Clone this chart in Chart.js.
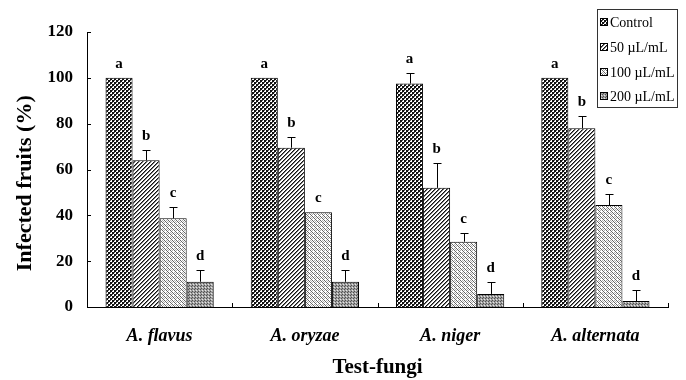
<!DOCTYPE html>
<html>
<head>
<meta charset="utf-8">
<script src="https://cdn.jsdelivr.net/npm/chart.js@4"></script>
<style>
  html, body { margin: 0; padding: 0; background: #fff; }
  #wrap { width: 686px; height: 380px; }
</style>
</head>
<body>
<div id="wrap"><canvas id="c" width="686" height="380"></canvas></div>
<script>
// categories and series
const categories = ['A. flavus', 'A. oryzae', 'A. niger', 'A. alternata'];
const seriesLabels = ['Control', '50 \u00b5L/mL', '100 \u00b5L/mL', '200 \u00b5L/mL'];

const controlValues = [100, 100, 97.5, 100];
const dose50Values = [64, 69.5, 52, 78];
const dose100Values = [38.7, 41.3, 28.5, 44.5];
const dose200Values = [11, 11, 5.7, 2.6];

// upper error bars (SD)
const controlErr = [0, 0, 4.8, 0];
const dose50Err = [4.6, 4.8, 11, 5.2];
const dose100Err = [5, 0, 4, 5];
const dose200Err = [5, 5, 5, 5];

// significance letters
const controlLetters = ['a', 'a', 'a', 'a'];
const dose50Letters = ['b', 'b', 'b', 'b'];
const dose100Letters = ['c', 'c', 'c', 'c'];
const dose200Letters = ['d', 'd', 'd', 'd'];

const yTicks = [0, 20, 40, 60, 80, 100, 120];

const SERIF = '"Liberation Serif", "Times New Roman", serif';

// --- fill patterns, built on small tiles ---
const makeTile = (size, draw) => {
  const tile = document.createElement('canvas');
  tile.width = size;
  tile.height = size;
  const t = tile.getContext('2d');
  t.fillStyle = '#fff';
  t.fillRect(0, 0, size, size);
  draw(t);
  return tile;
};

const canvas = document.getElementById('c');
const ctx = canvas.getContext('2d');

const checkerTile = makeTile(4, (t) => {
  t.fillStyle = '#111';
  t.fillRect(0, 0, 2, 2);
  t.fillRect(2, 2, 2, 2);
  t.fillStyle = '#555';
  t.fillRect(2, 0, 1, 1);
  t.fillRect(0, 2, 1, 1);
});

const stripeTile = makeTile(4, (t) => {
  t.fillStyle = '#111';
  // "/" diagonal
  t.fillRect(3, 0, 1, 1);
  t.fillRect(2, 1, 1, 1);
  t.fillRect(1, 2, 1, 1);
  t.fillRect(0, 3, 1, 1);
  t.fillStyle = '#777';
  t.fillRect(0, 0, 1, 1);
  t.fillRect(3, 1, 1, 1);
  t.fillRect(2, 2, 1, 1);
  t.fillRect(1, 3, 1, 1);
});

const diamondTile = makeTile(4, (t) => {
  t.fillStyle = '#666';
  t.fillRect(0, 0, 1, 1);
  t.fillRect(1, 1, 1, 1);
  t.fillRect(2, 2, 1, 1);
  t.fillRect(3, 3, 1, 1);
  t.fillStyle = '#b0b0b0';
  t.fillRect(2, 0, 1, 1);
  t.fillRect(0, 2, 1, 1);
  t.fillRect(3, 1, 1, 1);
});

const stippleTile = makeTile(3, (t) => {
  t.fillStyle = '#a0a0a0';
  t.fillRect(0, 0, 3, 3);
  t.fillStyle = '#505050';
  t.fillRect(0, 0, 1, 1);
  t.fillRect(2, 1, 1, 1);
  t.fillStyle = '#e6e6e6';
  t.fillRect(1, 2, 1, 1);
});

const patterns = [checkerTile, stripeTile, diamondTile, stippleTile].map(
  (tile) => ctx.createPattern(tile, 'repeat')
);

const seriesValues = [controlValues, dose50Values, dose100Values, dose200Values];
const seriesErr = [controlErr, dose50Err, dose100Err, dose200Err];
const seriesLetters = [controlLetters, dose50Letters, dose100Letters, dose200Letters];

const datasets = seriesLabels.map((label, i) => ({
  label,
  data: seriesValues[i],
  errors: seriesErr[i],
  letters: seriesLetters[i],
  backgroundColor: patterns[i],
  borderColor: '#000',
  borderWidth: 1,
  categoryPercentage: 0.745,
  barPercentage: 1.0
}));

// error bars (upper half only) + letters
const errorBarPlugin = {
  id: 'errorBars',
  afterDatasetsDraw(chart) {
    const c = chart.ctx;
    const yScale = chart.scales.y;
    c.save();
    chart.data.datasets.forEach((ds, di) => {
      const meta = chart.getDatasetMeta(di);
      meta.data.forEach((bar, i) => {
        const top = ds.data[i] + (ds.errors[i] || 0);
        const yTop = Math.round(yScale.getPixelForValue(top)) + 0.5;
        const x = Math.round(bar.x) + 0.5;
        if (ds.errors[i] > 0) {
          c.strokeStyle = '#000';
          c.lineWidth = 1;
          c.beginPath();
          c.moveTo(x, bar.y);
          c.lineTo(x, yTop);
          c.moveTo(x - 4, yTop);
          c.lineTo(x + 4, yTop);
          c.stroke();
        }
        c.fillStyle = '#000';
        c.font = 'bold 15px ' + SERIF;
        c.textAlign = 'center';
        c.textBaseline = 'alphabetic';
        c.fillText(ds.letters[i], bar.x, yTop - 11);
      });
    });
    c.restore();
  }
};

// inward tick marks on both axes
const tickMarkPlugin = {
  id: 'inTicks',
  afterDraw(chart) {
    const c = chart.ctx;
    const ys = chart.scales.y;
    const area = chart.chartArea;
    c.save();
    c.strokeStyle = '#000';
    c.lineWidth = 1;
    c.beginPath();
    yTicks.forEach((v) => {
      const py = Math.round(ys.getPixelForValue(v)) + 0.5;
      c.moveTo(area.left, py);
      c.lineTo(area.left + 4, py);
    });
    for (let i = 0; i <= categories.length; i++) {
      const px = Math.round(area.left + (area.right - area.left) * i / categories.length) + 0.5;
      c.moveTo(px, area.bottom);
      c.lineTo(px, area.bottom - 4);
    }
    c.stroke();
    c.restore();
  }
};

// boxed legend in the upper right corner
const boxLegendPlugin = {
  id: 'boxLegend',
  afterDraw(chart) {
    const c = chart.ctx;
    const bx = 597, by = 9, bw = 80, bh = 98;
    const rows = [22, 47, 72, 96];
    c.save();
    c.strokeStyle = '#333';
    c.lineWidth = 1;
    c.strokeRect(bx + 0.5, by + 0.5, bw, bh);
    chart.data.datasets.forEach((ds, i) => {
      const cy = rows[i];
      c.fillStyle = ds.backgroundColor;
      c.fillRect(600, cy - 4, 8, 8);
      c.strokeStyle = '#000';
      c.strokeRect(600.5, cy - 3.5, 7, 7);
      c.fillStyle = '#000';
      c.font = '14px ' + SERIF;
      c.textAlign = 'left';
      c.textBaseline = 'middle';
      c.fillText(ds.label, 610, cy + 1);
    });
    c.restore();
  }
};

new Chart(ctx, {
  type: 'bar',
  data: { labels: categories, datasets },
  plugins: [errorBarPlugin, tickMarkPlugin, boxLegendPlugin],
  options: {
    responsive: false,
    animation: false,
    devicePixelRatio: 1,
    layout: { padding: { top: 32, right: 18, left: 0, bottom: 0 } },
    plugins: {
      legend: { display: false },
      tooltip: { enabled: false }
    },
    scales: {
      x: {
        grid: { display: false, drawTicks: false },
        border: { display: true, color: '#000', width: 1 },
        ticks: {
          color: '#000',
          padding: 19,
          font: { family: SERIF, size: 18, weight: 'bold', style: 'italic' }
        },
        title: {
          display: true,
          text: 'Test-fungi',
          color: '#000',
          padding: { top: 0, bottom: 0 },
          font: { family: SERIF, size: 21, weight: 'bold' }
        },
        afterFit: (scale) => { scale.height = 73; }
      },
      y: {
        min: 0,
        max: 120,
        grid: { display: false, drawTicks: false },
        border: { display: true, color: '#000', width: 1 },
        ticks: {
          stepSize: 20,
          color: '#000',
          padding: 14,
          font: { family: SERIF, size: 17, weight: 'bold' }
        },
        title: {
          display: true,
          // trailing spaces nudge the centred title down toward the axis origin
          text: 'Infected fruits (%)\u00a0\u00a0\u00a0\u00a0\u00a0',
          color: '#000',
          padding: { top: 12, bottom: 0 },
          font: { family: SERIF, size: 22, weight: 'bold' }
        },
        afterFit: (scale) => { scale.width = 87; }
      }
    }
  }
});
</script>
</body>
</html>
